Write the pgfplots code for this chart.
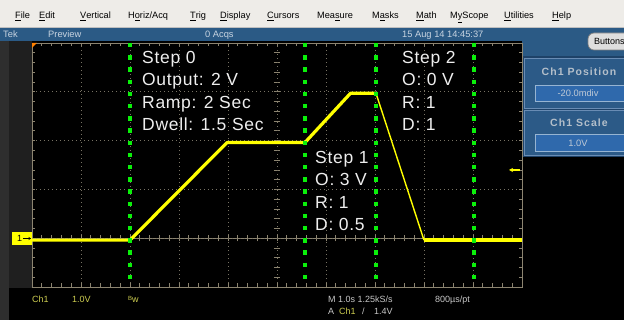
\documentclass[border=0pt]{standalone}
\usepackage{pgfplots}
\pgfplotsset{compat=1.18}
\usepackage{fontspec}
\setmainfont{Liberation Sans}
\newfontfamily\panelfont[LetterSpace=10]{Liberation Sans}
\newfontfamily\stepfont[LetterSpace=4]{Liberation Sans}
\usetikzlibrary{arrows.meta}
\definecolor{gratcol}{RGB}{140,132,112}
\definecolor{gridcol}{RGB}{120,115,100}
\definecolor{wave}{RGB}{255,255,0}
\definecolor{stepw}{RGB}{238,238,238}
\definecolor{menugray}{RGB}{238,236,232}
\definecolor{titleblue}{RGB}{43,90,133}
\definecolor{titletext}{RGB}{200,212,225}
\definecolor{panelbg}{RGB}{30,66,104}
\definecolor{panelfill}{RGB}{44,90,135}
\definecolor{paneledge}{RGB}{105,140,180}
\definecolor{valfill}{RGB}{47,105,172}
\definecolor{valedge}{RGB}{150,180,210}
\definecolor{byellow}{RGB}{205,205,80}
\definecolor{bgray}{RGB}{200,200,200}
\definecolor{mkgreen}{RGB}{10,240,10}
\begin{document}
\begin{tikzpicture}[x=1pt,y=1pt]
\useasboundingbox (0,0) rectangle (624,320);
% background
\fill[black] (0,0) rectangle (624,320);
\fill[black!88] (0,32) rectangle (32,279);
\fill[black!82] (0,0) rectangle (9,279);
% menu bar
\fill[menugray] (0,292) rectangle (624,320);
\draw[black!25] (0,292.3) -- (624,292.3);
\begin{scope}[every node/.style={anchor=base west, inner sep=0pt, font=\fontsize{9.2}{10}\selectfont, text=black}]
\node at (15,301) {\underline{F}ile};
\node at (39,301) {\underline{E}dit};
\node at (80,301) {\underline{V}ertical};
\node at (128,301) {H\underline{o}riz/Acq};
\node at (190,301) {\underline{T}rig};
\node at (220,301) {\underline{D}isplay};
\node at (267,301) {\underline{C}ursors};
\node at (317,301) {Mea\underline{s}ure};
\node at (372,301) {M\underline{a}sks};
\node at (416,301) {\underline{M}ath};
\node at (450,301) {M\underline{y}Scope};
\node at (504,301) {\underline{U}tilities};
\node at (552,301) {\underline{H}elp};
\end{scope}
% title bar
\fill[titleblue] (0,279) rectangle (624,292);
\begin{scope}[every node/.style={anchor=base west, inner sep=0pt, font=\fontsize{9.3}{10}\selectfont, text=titletext}]
\node at (3,282.7) {Tek};
\node at (48,282.7) {Preview};
\node at (205,282.7) {0 Acqs};
\node at (402,282.7) {15 Aug 14 14:45:37};
\end{scope}
% right panels
\fill[panelbg] (522,163) rectangle (624,279);
\fill[titleblue] (522,264) rectangle (624,279);
\filldraw[fill=panelfill, draw=paneledge, line width=0.8] (524.5,212) rectangle (626,262);
\filldraw[fill=valfill, draw=valedge, line width=0.7] (535.5,218.5) rectangle (626,235);
\node[font=\panelfont\bfseries\fontsize{10.5}{11}\selectfont, text=black!10!titletext, inner sep=0pt] at (579,248) {Ch1 Position};
\node[font=\fontsize{9.3}{10}\selectfont, text=black!5!titletext, inner sep=0pt] at (578,226.5) {-20.0mdiv};
\filldraw[fill=panelfill, draw=paneledge, line width=0.8] (524.5,164.5) rectangle (626,209.5);
\filldraw[fill=valfill, draw=valedge, line width=0.7] (535.5,168.5) rectangle (626,185.5);
\node[font=\panelfont\bfseries\fontsize{10.5}{11}\selectfont, text=black!10!titletext, inner sep=0pt] at (579,197) {Ch1 Scale};
\node[font=\fontsize{9.3}{10}\selectfont, text=black!5!titletext, inner sep=0pt] at (578,176.5) {1.0V};
% Buttons
\filldraw[fill=black!13, draw=black!50, line width=0.7, rounded corners=6pt] (588,270) rectangle (640,287);
\node[anchor=base west, inner sep=0pt, font=\fontsize{9}{10}\selectfont] at (594,275.5) {Buttons};
% graticule background
\fill[black] (32,33) rectangle (522,277);
% center lines with ticks
\draw[gratcol, line width=0.7] (32,81.8) -- (522,81.8);
\foreach \i in {1,...,49} \draw[gratcol, line width=0.7] ({32+9.8*\i},78.6) -- ({32+9.8*\i},85);
\foreach \j in {1,...,24} \draw[gratcol, line width=0.7] (273.8,{33+9.76*\j}) -- (280.2,{33+9.76*\j});
\begin{axis}[
  at={(32pt,33pt)}, anchor=south west,
  width=490pt, height=244pt, scale only axis,
  xmin=0, xmax=10, ymin=-1, ymax=4,
  axis line style={gratcol, line width=0.8pt},
  xtick={0,...,10}, ytick={-1,...,4},
  minor x tick num=4, minor y tick num=4,
  xticklabel=\empty, yticklabel=\empty,
  tick align=inside, major tick length=3.5pt, minor tick length=3.5pt,
  tick style={gratcol, line width=0.7pt},
  xtick pos=both, ytick pos=both,
  grid=major,
  major grid style={gridcol, line width=0.7pt, dash pattern=on 1pt off 3pt},
  clip=true,
]
\addplot[wave, line width=3.2pt, line join=round] coordinates {
 (0,-0.04) (2.0,-0.04) (3.98,1.96) (5.57,1.96) (6.5,2.97) (7.02,2.97)};
\addplot[wave, line width=1.4pt] coordinates {(7.02,2.97) (8.0,-0.04)};
\addplot[wave, line width=3.4pt] coordinates {(8.0,-0.04) (10,-0.04)};
\addplot[mkgreen, line width=4.5pt, dash pattern=on 4.5pt off 7.7pt] coordinates {(2,4) (2,-1)};
\addplot[mkgreen, line width=4.5pt, dash pattern=on 4.5pt off 7.7pt] coordinates {(5.57,4) (5.57,-1)};
\addplot[mkgreen, line width=4.5pt, dash pattern=on 4.5pt off 7.7pt] coordinates {(7.02,4) (7.02,-1)};
\addplot[mkgreen, line width=4.5pt, dash pattern=on 4.5pt off 7.7pt] coordinates {(9.02,4) (9.02,-1)};
\end{axis}
% corner marker
\fill[orange] (32,277) -- (37,277) -- (32,272) -- cycle;
% trigger level arrow
\draw[wave, line width=1.2, -{Stealth[length=4pt,width=4pt]}] (520,150) -- (509,150);
% channel marker
\fill[wave] (12,75) rectangle (32,88);
\node[anchor=base west, inner sep=0pt, font=\fontsize{9}{10}\selectfont] at (17,78) {1};
\draw[black, line width=0.6, -{Stealth[length=2.5pt,width=3pt]}] (23,81.5) -- (31,81.5);
% step texts
\begin{scope}[every node/.style={anchor=base west, inner sep=0pt, font=\stepfont\fontsize{17.5}{20}\selectfont, text=stepw}]
\node at (142,256.7) {Step 0};
\node at (142,234) {Output: 2 V};
\node at (142,211.5) {Ramp: 2 Sec};
\node at (142,189) {Dwell: 1.5 Sec};
\node at (402,256.7) {Step 2};
\node at (402,234) {O: 0 V};
\node at (402,211.5) {R: 1};
\node at (402,189) {D: 1};
\node at (315,156.7) {Step 1};
\node at (315,134) {O: 3 V};
\node at (315,111.5) {R: 1};
\node at (315,89) {D: 0.5};
\end{scope}
% bottom readouts
\begin{scope}[every node/.style={anchor=base west, inner sep=0pt, font=\fontsize{9}{10}\selectfont}]
\node[text=byellow] at (32,17) {Ch1};
\node[text=byellow] at (72,17) {1.0V};
\node[text=byellow] at (128,17) {{\fontsize{6}{6}\selectfont\raisebox{2.5pt}{B}}w};
\node[text=bgray] at (328,17) {M 1.0s 1.25kS/s};
\node[text=bgray] at (435,17) {800µs/pt};
\node[text=bgray] at (328,5) {A};
\node[text=byellow] at (339,5) {Ch1};
\node[text=bgray] at (362,5) {/};
\node[text=bgray] at (374,5) {1.4V};
\end{scope}
\end{tikzpicture}
\end{document}
